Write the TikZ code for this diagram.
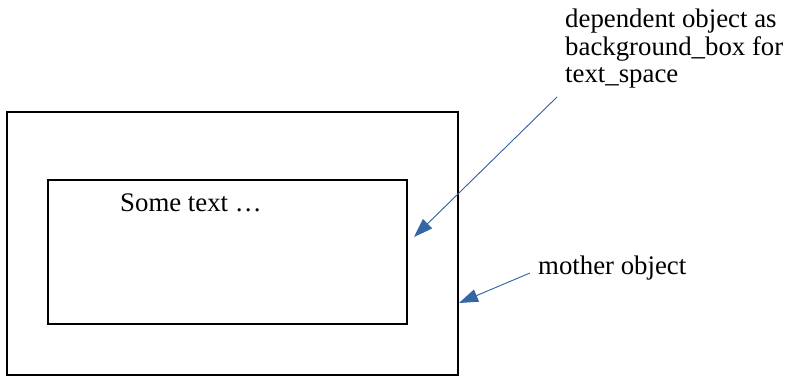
\documentclass[tikz,border=0pt]{standalone}
\usepackage{fontspec}
\setmainfont{Liberation Serif}
\usetikzlibrary{arrows.meta}
\definecolor{arrowblue}{HTML}{3465A4}
\begin{document}
\begin{tikzpicture}[x=1pt,y=-1pt,
  box/.style={draw=black,line width=1.4pt,inner sep=0pt,minimum width=#1},
  lbl/.style={inner sep=0pt,font=\fontsize{26.8}{27.5}\selectfont,align=left},
  pointer/.style={draw=arrowblue,line width=0.9pt,-{Triangle[length=19pt,width=13pt]},fill=arrowblue}]
\useasboundingbox (0,0) rectangle (788,377);
\node[box=451pt,minimum height=263pt] (outer) at (232.5,243.5) {};
\node[box=359pt,minimum height=144pt] (inner) at (227.5,252) {};
\node[lbl,anchor=base west] (txt) at (120,212) {Some text …};
\node[lbl,anchor=north west] (dep) at (565,9) {dependent object as\\background\_box for\\text\_space};
\node[lbl,anchor=base west] (mother) at (538,274) {mother object};
\coordinate (depstart) at (557,97);
\coordinate (deptip) at (414,237);
\coordinate (motstart) at (530,273);
\coordinate (mottip) at (459,303);
\draw[pointer] (depstart) -- (deptip);
\draw[pointer] (motstart) -- (mottip);
\end{tikzpicture}
\end{document}
